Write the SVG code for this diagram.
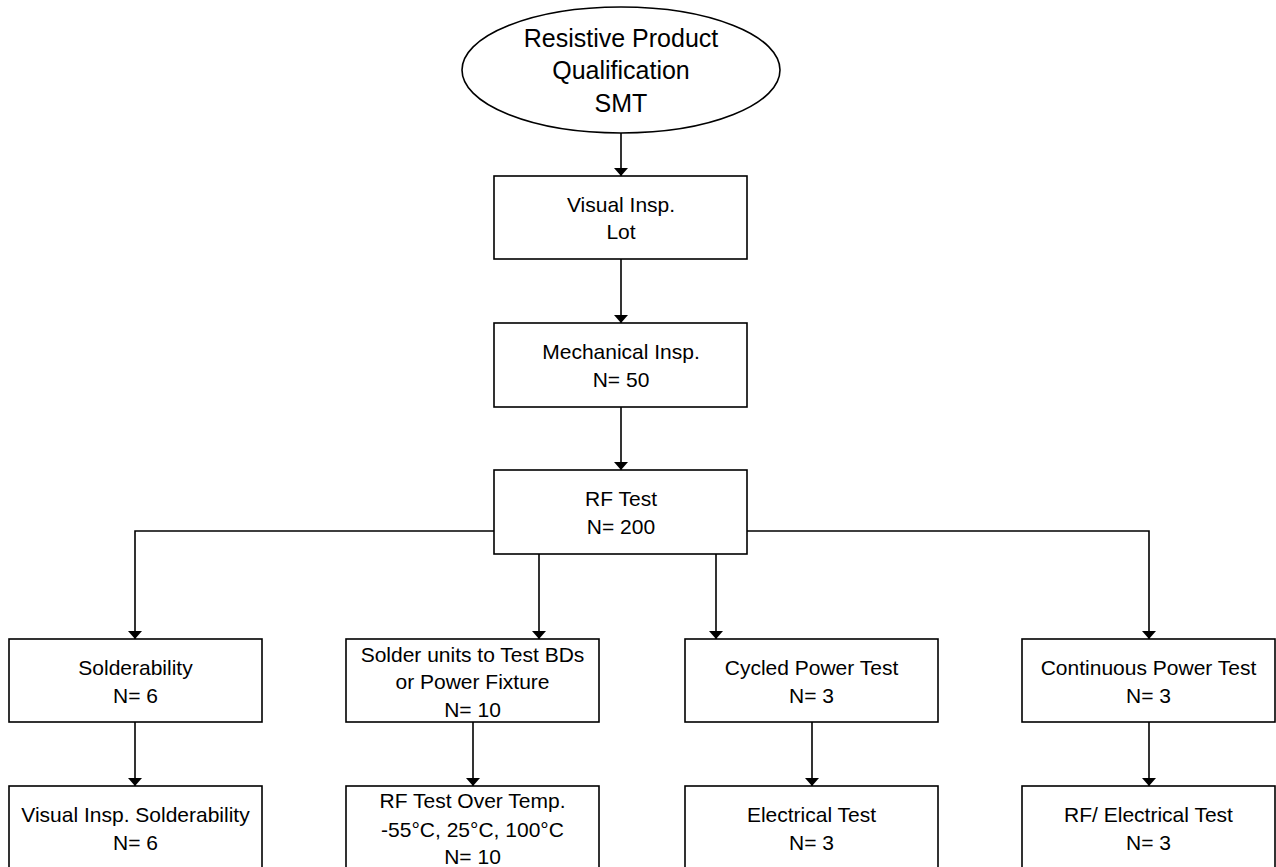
<svg xmlns="http://www.w3.org/2000/svg" width="1276" height="867" viewBox="0 0 1276 867">
<style>
.box{fill:#fff;stroke:#000;stroke-width:1.6}
.t{font-family:"Liberation Sans",Arial,sans-serif;font-size:21px;fill:#000;text-anchor:middle}
.tl{font-family:"Liberation Sans",Arial,sans-serif;font-size:25px;fill:#000;text-anchor:middle}
.c{fill:none;stroke:#000;stroke-width:1.6}
</style>
<defs>
<marker id="ah" markerUnits="userSpaceOnUse" markerWidth="14" markerHeight="8" refX="7" refY="8" orient="auto-start-reverse" viewBox="0 0 14 8">
<path d="M0,0 L14,0 L7,8 Z" fill="#000" transform="rotate(0)"/>
</marker>
<marker id="arr" markerUnits="userSpaceOnUse" markerWidth="14" markerHeight="14" refX="14" refY="7" orient="auto" viewBox="0 0 14 14">
<path d="M6,0 L14,7 L6,14 Z" fill="#000"/>
</marker>
</defs>
<rect width="1276" height="867" fill="#fff"/>
<g id="connectors">
<path class="c" d="M621,133 V176" marker-end="url(#arr)"/>
<path class="c" d="M621,259 V323" marker-end="url(#arr)"/>
<path class="c" d="M621,407 V470" marker-end="url(#arr)"/>
<path class="c" d="M494,531 H135 V639" marker-end="url(#arr)"/>
<path class="c" d="M539,554 V639" marker-end="url(#arr)"/>
<path class="c" d="M716,554 V639" marker-end="url(#arr)"/>
<path class="c" d="M747,531 H1149 V639" marker-end="url(#arr)"/>
<path class="c" d="M135,722 V786" marker-end="url(#arr)"/>
<path class="c" d="M473,722 V786" marker-end="url(#arr)"/>
<path class="c" d="M812,722 V786" marker-end="url(#arr)"/>
<path class="c" d="M1149,722 V786" marker-end="url(#arr)"/>
</g>
<g id="start">
<ellipse class="box" cx="621" cy="70" rx="159" ry="63"/>
<text class="tl" x="621" y="47">Resistive Product</text>
<text class="tl" x="621" y="79">Qualification</text>
<text class="tl" x="621" y="112">SMT</text>
</g>
<g id="visual">
<rect class="box" x="494" y="176" width="253" height="83"/>
<text class="t" x="621" y="212">Visual Insp.</text>
<text class="t" x="621" y="239">Lot</text>
</g>
<g id="mechanical">
<rect class="box" x="494" y="323" width="253" height="84"/>
<text class="t" x="621" y="359">Mechanical Insp.</text>
<text class="t" x="621" y="387">N= 50</text>
</g>
<g id="rftest">
<rect class="box" x="494" y="470" width="253" height="84"/>
<text class="t" x="621" y="506">RF Test</text>
<text class="t" x="621" y="534">N= 200</text>
</g>
<g id="solderability">
<rect class="box" x="9" y="639" width="253" height="83"/>
<text class="t" x="135.5" y="675">Solderability</text>
<text class="t" x="135.5" y="703">N= 6</text>
</g>
<g id="solderunits">
<rect class="box" x="346" y="639" width="253" height="83"/>
<text class="t" x="472.5" y="662">Solder units to Test BDs</text>
<text class="t" x="472.5" y="689">or Power Fixture</text>
<text class="t" x="472.5" y="717">N= 10</text>
</g>
<g id="cycled">
<rect class="box" x="685" y="639" width="253" height="83"/>
<text class="t" x="811.5" y="675">Cycled Power Test</text>
<text class="t" x="811.5" y="703">N= 3</text>
</g>
<g id="continuous">
<rect class="box" x="1022" y="639" width="253" height="83"/>
<text class="t" x="1148.5" y="675">Continuous Power Test</text>
<text class="t" x="1148.5" y="703">N= 3</text>
</g>
<g id="visualsolder">
<rect class="box" x="9" y="786" width="253" height="100"/>
<text class="t" x="135.5" y="822">Visual Insp. Solderability</text>
<text class="t" x="135.5" y="850">N= 6</text>
</g>
<g id="rfovertemp">
<rect class="box" x="346" y="786" width="253" height="100"/>
<text class="t" x="472.5" y="808">RF Test Over Temp.</text>
<text class="t" x="472.5" y="837">-55°C, 25°C, 100°C</text>
<text class="t" x="472.5" y="864">N= 10</text>
</g>
<g id="electrical">
<rect class="box" x="685" y="786" width="253" height="100"/>
<text class="t" x="811.5" y="822">Electrical Test</text>
<text class="t" x="811.5" y="850">N= 3</text>
</g>
<g id="rfelectrical">
<rect class="box" x="1022" y="786" width="253" height="100"/>
<text class="t" x="1148.5" y="822">RF/ Electrical Test</text>
<text class="t" x="1148.5" y="850">N= 3</text>
</g>
</svg>
